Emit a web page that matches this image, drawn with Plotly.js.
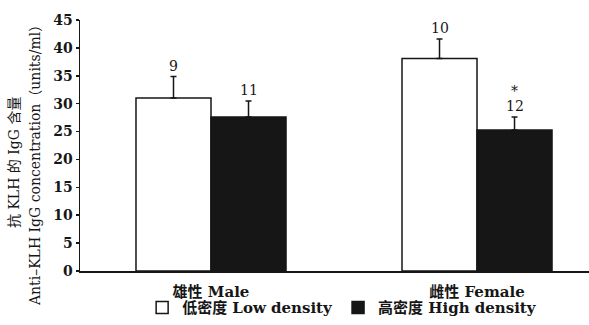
<!DOCTYPE html>
<html>
<head>
<meta charset="utf-8">
<script src="https://cdn.plot.ly/plotly-3.0.1.min.js"></script>
<style>html,body{margin:0;padding:0;background:#fff;}#chart{width:589px;height:325px;}</style>
</head>
<body>
<div id="chart"></div>
<script>
// Data
const categories = ['雄性 Male', '雌性 Female'];
const seriesNames = ['低密度 Low density', '高密度 High density'];
const lowDensity = [31.0, 38.1];
const lowDensityErr = [3.85, 3.5];
const highDensity = [27.6, 25.3];
const highDensityErr = [2.9, 2.3];
const lowN = ['9', '10'];
const highN = ['11', '12'];
const highSig = ['', '*'];
const yTicks = [0, 5, 10, 15, 20, 25, 30, 35, 40, 45];

const ink = '#161616';
const serif = 'DejaVu Serif, Liberation Serif, Noto Sans CJK SC, serif';
const bargap = 0.436;
const xIdx = categories.map((c, i) => i);
const off = (1 - bargap) / 4;

const traces = [
  {
    type: 'bar', name: seriesNames[0], x: xIdx, y: lowDensity,
    marker: {color: '#ffffff', line: {color: ink, width: 1.5}},
    error_y: {type: 'data', symmetric: false, array: lowDensityErr, arrayminus: lowDensity.map(() => 0), color: ink, thickness: 1.5, width: 3},
    hoverinfo: 'skip'
  },
  {
    type: 'bar', name: seriesNames[1], x: xIdx, y: highDensity,
    marker: {color: ink, line: {color: ink, width: 1.5}},
    error_y: {type: 'data', symmetric: false, array: highDensityErr, arrayminus: highDensity.map(() => 0), color: ink, thickness: 1.5, width: 3},
    hoverinfo: 'skip'
  }
];

const annotations = [];
xIdx.forEach(i => {
  annotations.push({x: i - off, y: lowDensity[i] + lowDensityErr[i], xref: 'x', yref: 'y', text: lowN[i], showarrow: false, yanchor: 'bottom', yshift: 1, font: {family: serif, size: 14, color: ink}});
  annotations.push({x: i + off, y: highDensity[i] + highDensityErr[i], xref: 'x', yref: 'y', text: highN[i], showarrow: false, yanchor: 'bottom', yshift: 1, font: {family: serif, size: 14, color: ink}});
  if (highSig[i]) {
    annotations.push({x: i + off, y: highDensity[i] + highDensityErr[i], xref: 'x', yref: 'y', text: highSig[i], showarrow: false, yanchor: 'bottom', yshift: 16, font: {family: serif, size: 14, color: ink}});
  }
});
// y-axis title (two lines)
annotations.push({x: -0.1297, y: 0.434, xref: 'paper', yref: 'paper', text: '抗 KLH 的 IgG 含量', textangle: -90, showarrow: false, xanchor: 'center', yanchor: 'middle', font: {family: serif, size: 14, color: ink}});
annotations.push({x: -0.0884, y: 0.434, xref: 'paper', yref: 'paper', text: 'Anti–KLH IgG concentration（units/ml）', textangle: -90, showarrow: false, xanchor: 'center', yanchor: 'middle', font: {family: serif, size: 14, color: ink}});

const layout = {
  width: 589, height: 325,
  margin: {l: 80, r: 0, t: 20, b: 54, pad: 0},
  paper_bgcolor: '#ffffff', plot_bgcolor: '#ffffff',
  barmode: 'group', bargap: bargap, bargroupgap: 0,
  showlegend: true,
  legend: {orientation: 'h', x: 0.515, xanchor: 'center', y: -0.212, yanchor: 'bottom', bgcolor: 'rgba(0,0,0,0)', borderwidth: 0, font: {family: serif, size: 15, color: ink, weight: 'bold'}, itemwidth: 30, tracegroupgap: 0},
  xaxis: {
    range: [-0.4925, 1.421], tickmode: 'array', tickvals: xIdx, ticktext: categories,
    showline: true, linecolor: ink, linewidth: 1.5, ticks: '', showgrid: false, zeroline: false,
    ticklabelstandoff: 6,
    tickfont: {family: serif, size: 15, color: ink, weight: 'bold'}, fixedrange: true
  },
  yaxis: {
    range: [0, 45], tickmode: 'array', tickvals: yTicks,
    showline: true, linecolor: ink, linewidth: 1.5, ticks: 'outside', ticklen: 3, tickwidth: 1.5, tickcolor: ink,
    showgrid: false, zeroline: false, ticklabelstandoff: 0,
    tickfont: {family: serif, size: 14, color: ink, weight: 'bold'}, fixedrange: true
  },
  annotations: annotations
};

Plotly.newPlot('chart', traces, layout, {displayModeBar: false, staticPlot: true});
</script>
</body>
</html>
